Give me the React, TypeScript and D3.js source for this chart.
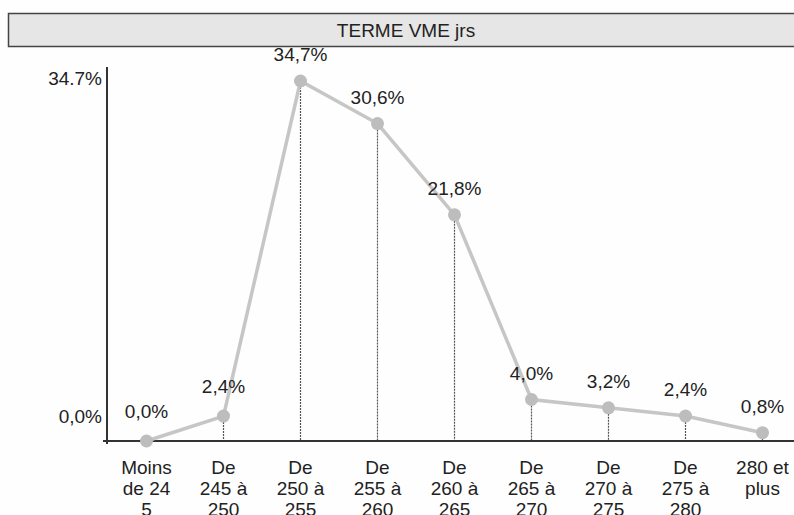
import React from "react";
import * as d3 from "d3";

const categories: string[][] = [
  ["Moins", "de 24", "5"],
  ["De", "245 à", "250"],
  ["De", "250 à", "255"],
  ["De", "255 à", "260"],
  ["De", "260 à", "265"],
  ["De", "265 à", "270"],
  ["De", "270 à", "275"],
  ["De", "275 à", "280"],
  ["280 et", "plus"],
];
const values: number[] = [0.0, 2.4, 34.7, 30.6, 21.8, 4.0, 3.2, 2.4, 0.8];
const yTickValues: number[] = [0, 34.7];
const yTickLabels: string[] = ["0,0%", "34.7%"];
const title = "TERME VME jrs";

const W = 794;
const H = 515;
const FONT = "'Liberation Sans', Arial, Helvetica, sans-serif";
const FS = 19;

const fmt = (v: number) => v.toFixed(1).replace(".", ",") + "%";

export default function App() {
  const x = d3
    .scaleBand<number>()
    .domain(values.map((_, i) => i))
    .range([108, 801])
    .padding(0);
  const y = d3.scaleLinear().domain([0, 34.7]).range([441, 81]);
  const cx = (i: number) => (x(i) as number) + x.bandwidth() / 2;

  const line = d3
    .line<number>()
    .x((_, i) => cx(i))
    .y((d) => y(d));

  return (
    <svg
      width={W}
      height={H}
      style={{ position: "absolute", left: 0, top: 0, background: "#fff" }}
      fontFamily={FONT}
    >
      <rect x={0} y={0} width={W} height={H} fill="#fefefe" />
      {/* title box */}
      <rect x={8.5} y={13.5} width={800} height={33} fill="#e6e6e6" stroke="#444" strokeWidth={1.5} />
      <text x={406} y={37} textAnchor="middle" fontSize={FS} fill="#222">
        {title}
      </text>

      {/* drop lines */}
      {values.map((v, i) =>
        i === 0 ? null : (
          <line
            key={"d" + i}
            x1={cx(i)}
            x2={cx(i)}
            y1={y(v)}
            y2={y(0)}
            stroke="#555"
            strokeWidth={1.2}
            strokeDasharray="2,1"
          />
        )
      )}

      {/* axes */}
      <line x1={107} x2={107} y1={67} y2={444} stroke="#333" strokeWidth={2} />
      <line x1={103} x2={W} y1={441} y2={441} stroke="#333" strokeWidth={2} />
      {yTickValues.map((t, k) => (
        <text
          key={"yt" + t}
          x={102}
          y={t === 0 ? 423 : y(t) + 4}
          textAnchor="end"
          fontSize={FS}
          fill="#222"
        >
          {yTickLabels[k]}
        </text>
      ))}

      {/* line */}
      <path d={line(values) || ""} fill="none" stroke="#c6c6c6" strokeWidth={3.5} />
      {values.map((v, i) => (
        <circle key={"c" + i} cx={cx(i)} cy={y(v)} r={6.5} fill="#bdbdbd" />
      ))}

      {/* data labels */}
      {values.map((v, i) => (
        <text
          key={"l" + i}
          x={cx(i)}
          y={y(v) - (i <= 1 ? 23 : 20)}
          textAnchor="middle"
          fontSize={FS}
          fill="#222"
        >
          {fmt(v)}
        </text>
      ))}

      {/* x labels */}
      {categories.map((lines, i) => (
        <text key={"x" + i} x={cx(i)} y={474} textAnchor="middle" fontSize={FS} fill="#222">
          {lines.map((s, j) => (
            <tspan key={j} x={cx(i)} dy={j === 0 ? 0 : 21}>
              {s}
            </tspan>
          ))}
        </text>
      ))}
    </svg>
  );
}
